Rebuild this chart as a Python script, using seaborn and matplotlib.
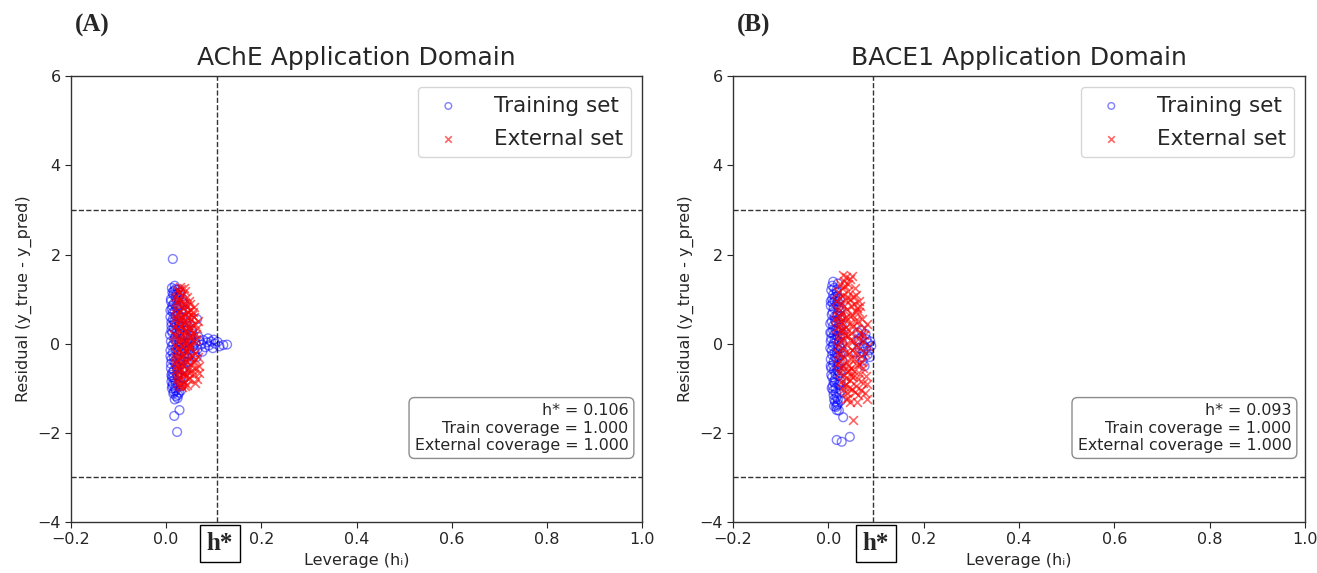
import matplotlib
matplotlib.use("Agg")
import matplotlib.pyplot as plt
import matplotlib.transforms as mtransforms
import seaborn as sns
import pandas as pd

# ---------------- data ----------------
titles = ["AChE Application Domain", "BACE1 Application Domain"]
panel_tags = ["(A)", "(B)"]
h_star = [0.106, 0.093]
train_cov = [1.000, 1.000]
ext_cov = [1.000, 1.000]
resid_limit = 3.0
xticks = [-0.2, 0.0, 0.2, 0.4, 0.6, 0.8, 1.0]
yticks = [-4, -2, 0, 2, 4, 6]

a_train_lev = [0.014, 0.028, 0.017, 0.023, 0.065, 0.120, 0.128,
               0.052, 0.058, 0.062, 0.066, 0.070, 0.074, 0.078, 0.082, 0.086, 0.090, 0.094, 0.098, 0.103, 0.108, 0.112,
               0.060, 0.068, 0.076, 0.056, 0.064, 0.088, 0.100,
               0.012, 0.018, 0.025, 0.015, 0.020, 0.030, 0.010, 0.016, 0.022, 0.028, 0.035, 0.012, 0.018, 0.024, 0.032,
               0.040, 0.009, 0.014, 0.020, 0.027, 0.034, 0.042, 0.011, 0.016, 0.022, 0.029, 0.036, 0.045, 0.008, 0.013,
               0.019, 0.025, 0.031, 0.038, 0.046, 0.010, 0.015, 0.021, 0.027, 0.033, 0.040, 0.048, 0.009, 0.014, 0.020,
               0.026, 0.032, 0.039, 0.047, 0.011, 0.017, 0.023, 0.029, 0.035, 0.043, 0.010, 0.016, 0.022, 0.028, 0.034,
               0.041, 0.012, 0.018, 0.024, 0.030, 0.037, 0.013, 0.019, 0.025, 0.031, 0.015, 0.021, 0.027, 0.018, 0.024,
               0.017, 0.023, 0.013, 0.026, 0.019, 0.033, 0.011, 0.038, 0.044, 0.050, 0.054, 0.048,
               0.010, 0.014, 0.011, 0.012, 0.010, 0.013, 0.012, 0.016, 0.018, 0.017, 0.016, 0.015, 0.020, 0.021,
               0.022, 0.024, 0.023, 0.026, 0.027, 0.028, 0.030, 0.031, 0.033, 0.034, 0.036, 0.037, 0.040, 0.042,
               0.044, 0.046, 0.049, 0.052, 0.055, 0.009, 0.011, 0.009, 0.011, 0.013, 0.014, 0.016, 0.019, 0.020,
               0.022, 0.025, 0.028, 0.032, 0.035, 0.039]
a_train_res = [1.90, -1.49, -1.62, -1.98, 0.55, -0.03, -0.02,
               0.10, -0.05, 0.02, -0.12, 0.06, -0.02, 0.08, -0.08, 0.03, -0.04, 0.05, -0.10, 0.00, 0.04, -0.06,
               -0.20, 0.15, -0.18, 0.22, -0.30, 0.12, 0.09,
               1.25, 1.30, 1.22, 1.10, 1.05, 1.15, 0.95, 0.90, 0.98, 0.85, 0.92, 0.78, 0.72, 0.80, 0.70,
               0.75, 0.60, 0.55, 0.62, 0.50, 0.58, 0.48, 0.40, 0.35, 0.42, 0.30, 0.38, 0.32, 0.20, 0.25,
               0.15, 0.22, 0.10, 0.18, 0.12, 0.05, -0.02, 0.03, -0.08, 0.00, -0.05, 0.02, -0.15, -0.20, -0.12,
               -0.25, -0.18, -0.22, -0.15, -0.35, -0.40, -0.32, -0.45, -0.38, -0.42, -0.55, -0.60, -0.52, -0.65, -0.58,
               -0.62, -0.75, -0.80, -0.72, -0.85, -0.78, -0.95, -1.00, -0.92, -1.05, -1.12, -1.18, -1.10, -1.25, -1.22,
               0.50, -0.70, 0.85, 0.65, -0.45, 0.45, -0.85, -0.30, 0.20, -0.25, 0.30, -0.40,
               1.00, 0.70, 0.30, -0.05, -0.45, -0.65, -1.00, 1.18, 0.45, 0.10, -0.30, -0.75, -1.05, 0.82,
               0.25, -0.15, -0.55, 1.02, 0.40, 0.05, -0.35, -0.75, 0.78, 0.22, -0.10, -0.55, 0.55, 0.02,
               -0.30, 0.40, -0.12, 0.18, -0.08, 0.75, 0.48, -0.28, -0.70, 1.15, -0.90, -1.08, 1.22, -0.88,
               1.12, -1.15, 1.08, -0.95, 1.00, 0.88]

a_ext_lev = [0.030, 0.038, 0.026, 0.034, 0.044, 0.022, 0.030, 0.040, 0.050, 0.058, 0.020, 0.028, 0.036, 0.046,
             0.054, 0.018, 0.026, 0.034, 0.042, 0.052, 0.060, 0.016, 0.024, 0.032, 0.040, 0.048, 0.056, 0.020,
             0.028, 0.036, 0.044, 0.052, 0.018, 0.026, 0.034, 0.042, 0.050, 0.020, 0.028, 0.036, 0.044, 0.054,
             0.018, 0.026, 0.034, 0.042, 0.052, 0.062, 0.020, 0.028, 0.036, 0.046, 0.058, 0.068, 0.022, 0.030,
             0.038, 0.048, 0.060, 0.026, 0.034, 0.044, 0.030, 0.038, 0.024, 0.046, 0.032, 0.040, 0.022, 0.048,
             0.064, 0.058, 0.066, 0.040,
             0.019, 0.023, 0.027, 0.032, 0.036, 0.042, 0.048, 0.021, 0.025, 0.029, 0.031, 0.035, 0.037, 0.039,
             0.041, 0.043, 0.045, 0.047, 0.049, 0.051, 0.053, 0.055, 0.057, 0.059, 0.061, 0.063, 0.017, 0.019,
             0.021, 0.023, 0.025, 0.027, 0.029, 0.031, 0.033, 0.035, 0.037, 0.039, 0.041, 0.043, 0.045, 0.047,
             0.050, 0.054, 0.056, 0.060, 0.065, 0.070, 0.066, 0.062]
a_ext_res = [1.28, 1.25, 1.15, 1.10, 1.05, 0.95, 0.98, 0.92, 0.88, 0.82, 0.78, 0.72, 0.80, 0.70,
             0.65, 0.58, 0.55, 0.62, 0.50, 0.56, 0.45, 0.38, 0.32, 0.40, 0.28, 0.35, 0.25, 0.18,
             0.12, 0.20, 0.08, 0.15, -0.02, 0.04, -0.06, 0.02, -0.10, -0.20, -0.15, -0.25, -0.18, -0.28,
             -0.40, -0.35, -0.45, -0.38, -0.48, -0.55, -0.60, -0.55, -0.65, -0.58, -0.68, -0.66, -0.80, -0.75,
             -0.85, -0.78, -0.88, -0.95, -0.98, -0.92, 0.50, -0.50, 0.88, 0.42, -0.30, 0.65, -0.10, -0.65,
             0.35, 0.05, -0.30, 1.18,
             1.05, 1.20, 1.00, 1.22, 0.90, 0.85, 0.95, 0.66, 0.45, 0.28, 0.62, 0.10, 0.48, -0.12,
             0.30, -0.42, 0.60, 0.15, -0.30, 0.75, -0.05, 0.42, -0.40, 0.60, -0.20, 0.10, 0.20, -0.30,
             -0.50, -0.70, -0.88, -0.45, -0.62, -0.90, -0.20, -0.72, 0.00, -0.95, -0.68, 0.70, -0.80, -0.05,
             0.30, -0.60, 0.72, -0.35, -0.80, -0.50, 0.50, 0.22]

b_train_lev = [0.0175, 0.028, 0.045, 0.0175, 0.031, 0.010, 0.020,
               0.006, 0.012, 0.018, 0.008, 0.014, 0.020, 0.005, 0.011, 0.017, 0.023, 0.007, 0.013, 0.019, 0.025,
               0.004, 0.010, 0.016, 0.022, 0.028, 0.006, 0.012, 0.018, 0.024, 0.030, 0.005, 0.011, 0.017, 0.023,
               0.029, 0.007, 0.013, 0.019, 0.025, 0.031, 0.005, 0.011, 0.017, 0.023, 0.029, 0.006, 0.012, 0.018,
               0.024, 0.008, 0.014, 0.020, 0.026, 0.009, 0.015, 0.021, 0.027, 0.011, 0.017, 0.023, 0.014, 0.020,
               0.026, 0.016, 0.022, 0.009, 0.015, 0.021, 0.027, 0.013, 0.019, 0.010,
               0.060, 0.065, 0.070, 0.075, 0.080, 0.085, 0.088, 0.068, 0.078, 0.072, 0.082, 0.062, 0.090, 0.058,
               0.076,
               0.005, 0.007, 0.006, 0.008, 0.006, 0.007, 0.010, 0.009, 0.010, 0.009, 0.010, 0.011, 0.012, 0.013,
               0.014, 0.013, 0.014, 0.015, 0.016, 0.017, 0.018, 0.019, 0.018, 0.019, 0.018, 0.021, 0.022, 0.021,
               0.024, 0.025, 0.024, 0.026, 0.027, 0.028, 0.008, 0.012, 0.020, 0.004, 0.004, 0.005, 0.064, 0.073,
               0.083, 0.069, 0.087, 0.079]
b_train_res = [-2.16, -2.20, -2.09, -1.49, -1.65, 1.39, 1.35,
               1.20, 1.25, 1.15, 1.00, 1.05, 0.95, 0.85, 0.80, 0.88, 0.75, 0.65, 0.60, 0.68, 0.55,
               0.45, 0.40, 0.48, 0.35, 0.42, 0.25, 0.20, 0.28, 0.15, 0.22, 0.05, 0.00, 0.08, -0.05,
               0.02, -0.15, -0.20, -0.12, -0.25, -0.18, -0.35, -0.40, -0.32, -0.45, -0.38, -0.55, -0.60, -0.52,
               -0.65, -0.75, -0.80, -0.72, -0.85, -0.95, -1.00, -0.92, -1.05, -1.15, -1.20, -1.12, -1.30, -1.35,
               -1.28, -1.42, -1.50, 0.92, 0.30, -0.28, 0.62, -0.88, 1.05, -1.05,
               0.05, -0.10, 0.15, -0.05, 0.10, -0.15, 0.05, -0.30, 0.22, -0.38, -0.25, 0.25, -0.05, -0.20,
               -0.50,
               0.95, 0.50, 0.12, -0.25, -0.70, -1.00, 1.10, 0.70, 0.30, -0.05, -0.48, -0.85, -1.25, 0.95,
               0.52, 0.10, -0.30, -0.68, -1.10, 1.20, 0.62, 0.18, -0.20, -0.60, -1.38, 0.82, 0.05, -0.50,
               1.00, 0.30, -0.90, -0.10, 0.80, -0.60, 1.30, -1.40, -1.25, -0.10, 0.25, -0.50, 0.10, -0.18,
               0.02, 0.30, -0.30, -0.10]

b_ext_lev = [0.030, 0.038, 0.046, 0.025, 0.035, 0.055, 0.020, 0.030, 0.042, 0.052, 0.065, 0.015, 0.025, 0.036,
             0.048, 0.060, 0.018, 0.028, 0.040, 0.050, 0.070, 0.014, 0.024, 0.034, 0.044, 0.056, 0.080, 0.016,
             0.026, 0.038, 0.048, 0.060, 0.020, 0.030, 0.042, 0.052, 0.064, 0.018, 0.028, 0.040, 0.050, 0.062,
             0.022, 0.032, 0.044, 0.054, 0.068, 0.018, 0.028, 0.038, 0.048, 0.060, 0.022, 0.032, 0.042, 0.052,
             0.066, 0.078, 0.026, 0.036, 0.046, 0.058, 0.072, 0.030, 0.040, 0.050, 0.062, 0.080, 0.036, 0.046,
             0.052, 0.070, 0.075, 0.058, 0.034, 0.044, 0.024, 0.056, 0.084,
             0.033, 0.042, 0.050, 0.028, 0.045, 0.058, 0.022, 0.033, 0.054, 0.064, 0.020, 0.031, 0.046, 0.062,
             0.074, 0.022, 0.036, 0.052, 0.068, 0.024, 0.046, 0.058, 0.072, 0.020, 0.036, 0.048, 0.064, 0.076,
             0.024, 0.042, 0.054, 0.072, 0.026, 0.036, 0.048, 0.062, 0.082, 0.032, 0.044, 0.056, 0.068, 0.042,
             0.060, 0.076, 0.038, 0.028, 0.066, 0.040]
b_ext_res = [1.55, 1.50, 1.45, 1.35, 1.30, 1.25, 1.15, 1.10, 1.18, 1.05, 0.95, 0.95, 0.90, 0.98,
             0.85, 0.80, 0.75, 0.70, 0.78, 0.65, 0.55, 0.55, 0.50, 0.58, 0.45, 0.52, 0.45, 0.35,
             0.30, 0.38, 0.25, 0.32, 0.15, 0.10, 0.18, 0.05, 0.12, -0.05, -0.10, -0.02, -0.15, -0.08,
             -0.25, -0.30, -0.22, -0.35, -0.28, -0.45, -0.50, -0.42, -0.55, -0.48, -0.65, -0.70, -0.62, -0.75,
             -0.68, -0.72, -0.85, -0.90, -0.82, -0.95, -0.88, -1.05, -1.10, -1.02, -1.15, -1.25, -1.25, -1.30,
             -1.71, -0.40, 0.20, 0.70, 0.20, -0.60, 0.60, -0.20, -0.05,
             1.40, 1.35, 1.52, 1.25, 1.00, 1.10, 1.02, 0.85, 0.90, 0.70, 0.62, 0.45, 0.62, 0.50,
             0.35, 0.40, 0.28, 0.40, 0.22, 0.05, 0.08, -0.02, 0.05, -0.20, -0.18, -0.35, -0.45, -0.20,
             -0.38, -0.50, -0.62, -0.55, -0.55, -0.78, -0.72, -0.80, -0.90, -0.95, -1.00, -1.08, -1.05, -1.22,
             -1.30, -1.10, 0.60, 0.30, 0.85, 1.05]

panels = [
    (a_train_lev, a_train_res, a_ext_lev, a_ext_res),
    (b_train_lev, b_train_res, b_ext_lev, b_ext_res),
]

# ---------------- figure ----------------
sns.set_style("ticks")
plt.rcParams["font.family"] = ["DejaVu Sans"]

fig = plt.figure(figsize=(13.17, 5.73), dpi=100)
ax_rects = [[0.0539, 0.089, 0.4336, 0.778], [0.5566, 0.089, 0.4343, 0.778]]

for i, (tl, tr, el, er) in enumerate(panels):
    ax = fig.add_axes(ax_rects[i])
    train = pd.DataFrame({"lev": tl, "res": tr})
    ext = pd.DataFrame({"lev": el, "res": er})
    sns.scatterplot(data=train, x="lev", y="res", ax=ax, marker="o", s=40,
                    facecolors="none", edgecolors="blue", linewidth=1.0, alpha=0.5,
                    label="Training set")
    sns.scatterplot(data=ext, x="lev", y="res", ax=ax, marker="x", s=40,
                    color="red", linewidth=1.2, alpha=0.6, label="External set")
    ax.axvline(h_star[i], color="black", linestyle="--", linewidth=1.0, alpha=0.8)
    ax.axhline(resid_limit, color="black", linestyle="--", linewidth=1.0, alpha=0.8)
    ax.axhline(-resid_limit, color="black", linestyle="--", linewidth=1.0, alpha=0.8)
    ax.set_xlim(-0.2, 1.0)
    ax.set_ylim(-4, 6)
    ax.set_xticks(xticks)
    ax.set_yticks(yticks)
    ax.tick_params(labelsize=11.5, length=4)
    for sp in ax.spines.values():
        sp.set_visible(True)
        sp.set_linewidth(1.0)
        sp.set_color("#333333")
    ax.set_xlabel("Leverage (hᵢ)", fontsize=11.5)
    ax.set_ylabel("Residual (y_true - y_pred)", fontsize=11.5)
    ax.set_title(titles[i], fontsize=18, pad=8)
    ax.legend(loc="upper right", fontsize=15.5, frameon=True, borderpad=0.4,
              markerscale=0.75, handletextpad=1.1, labelspacing=0.6)
    ax.text(0.976, 0.155,
            f"h* = {h_star[i]:.3f}\nTrain coverage = {train_cov[i]:.3f}\nExternal coverage = {ext_cov[i]:.3f}",
            transform=ax.transAxes, ha="right", va="bottom", fontsize=11.4,
            bbox=dict(boxstyle="round,pad=0.35", facecolor="white", edgecolor="gray", alpha=0.9))
    trans = mtransforms.blended_transform_factory(ax.transData, ax.transAxes)
    ax.text(h_star[i] + 0.007, -0.049, "h*", transform=trans, ha="center", va="center",
            fontsize=18, fontweight="bold", family=["Liberation Serif", "DejaVu Serif"],
            bbox=dict(boxstyle="square,pad=0.28", facecolor="white", edgecolor="black", linewidth=1.0))
    fig.text(ax_rects[i][0] + 0.003, 0.955, panel_tags[i], fontsize=18, fontweight="bold",
             family=["Liberation Serif", "DejaVu Serif"], ha="left", va="center")

fig.savefig("out.png", dpi=100)
